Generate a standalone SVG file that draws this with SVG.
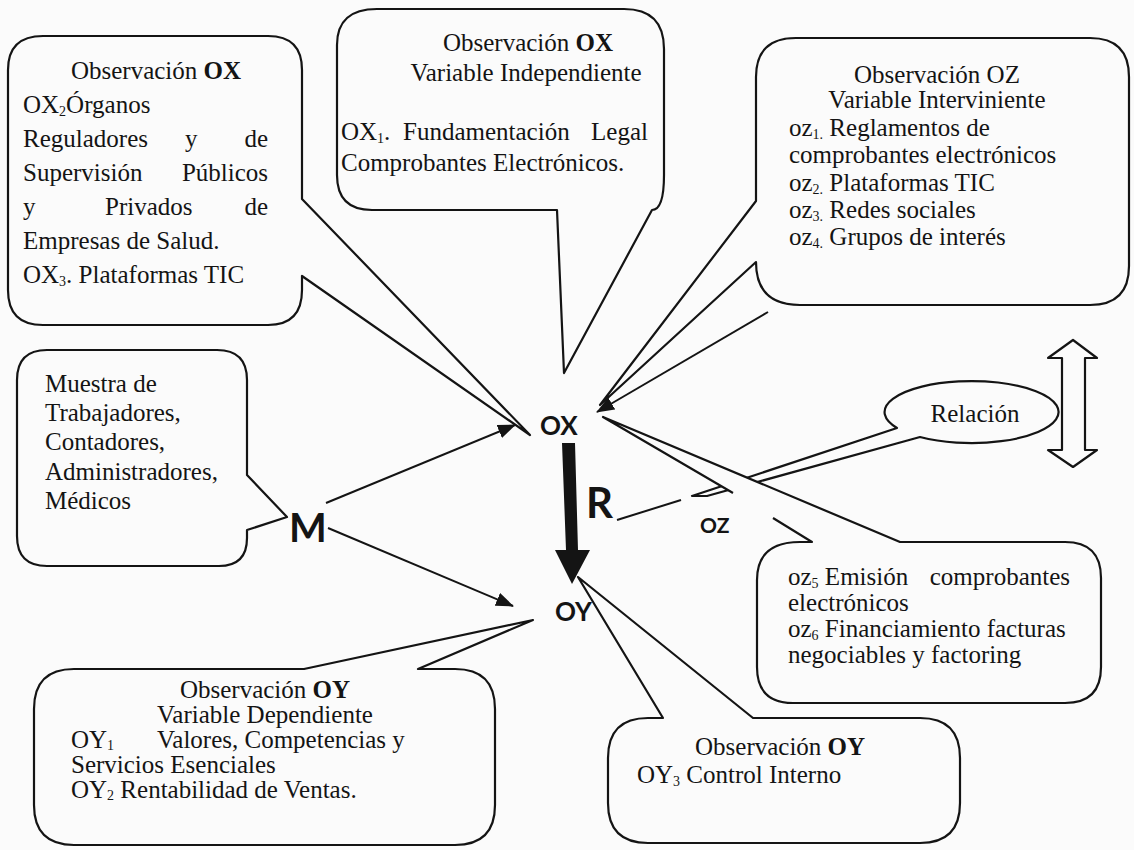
<svg xmlns="http://www.w3.org/2000/svg" width="1134" height="850" viewBox="0 0 1134 850">
<defs>
<style>
.t{font-family:"Liberation Serif","Times New Roman",serif;font-size:25px;fill:#141414}
.b{font-weight:bold}
.sub{font-size:14px}
.s{font-family:Lato,"Liberation Sans",sans-serif;font-weight:bold;fill:#141414}
.box{fill:#fbfbfb;stroke:#141414;stroke-width:2.2;stroke-linejoin:round}
.ln{fill:none;stroke:#141414;stroke-width:2}
</style>
<marker id="ah" markerUnits="userSpaceOnUse" markerWidth="18" markerHeight="14" refX="17" refY="7" orient="auto">
<path d="M0,0 L18,7 L0,14 Z" fill="#141414"/>
</marker>
</defs>
<rect width="1134" height="850" fill="#fbfbfb"/>

<g id="relacion">
<path class="box" d="M920,437 A87,31 0 1 0 897,428 L692,496 L707,496 Z"/>
<text class="t" x="975" y="422" text-anchor="middle">Relación</text>
</g>

<g id="connectors">
<line class="ln" x1="326" y1="503" x2="515" y2="425" marker-end="url(#ah)"/>
<line class="ln" x1="328" y1="528" x2="513" y2="606" marker-end="url(#ah)"/>
<line class="ln" x1="768" y1="312" x2="597" y2="412" marker-end="url(#ah)"/>
<line class="ln" x1="617" y1="520" x2="681" y2="500"/>
<path d="M562,443 L575,443 L578,550 L590,550 L572,584 L555,550 L566,550 Z" fill="#141414"/>
</g>

<g id="obs-ox-left">
<path class="box" d="M43,36 L268,36 Q302,36 302,70 L302,199 L530,435 L302,276 L302,290 Q302,325 268,325 L43,325 Q8,325 8,290 L8,70 Q8,36 43,36 Z"/>
<text class="t" x="156" y="79" text-anchor="middle">Observación <tspan class="b">OX</tspan></text>
<text class="t" x="23" y="113">OX<tspan class="sub" dy="3">2</tspan><tspan dy="-3">Órganos</tspan></text>
<text class="t" x="23" y="147">Reguladores</text>
<text class="t" x="185" y="147">y</text>
<text class="t" x="268" y="147" text-anchor="end">de</text>
<text class="t" x="23" y="181">Supervisión</text>
<text class="t" x="268" y="181" text-anchor="end">Públicos</text>
<text class="t" x="23" y="215">y</text>
<text class="t" x="105" y="215">Privados</text>
<text class="t" x="268" y="215" text-anchor="end">de</text>
<text class="t" x="23" y="249">Empresas de Salud.</text>
<text class="t" x="23" y="283">OX<tspan class="sub" dy="3">3</tspan><tspan dy="-3">. Plataformas TIC</tspan></text>
</g>

<g id="obs-ox-top">
<path class="box" d="M377,9 L624,9 Q664,9 664,49 L664,175 Q664,210 652,210 L564,373 L557,210 L372,210 Q337,210 337,175 L337,45 Q337,9 377,9 Z"/>
<text class="t" x="528" y="51" text-anchor="middle">Observación <tspan class="b">OX</tspan></text>
<text class="t" x="526" y="81" text-anchor="middle">Variable Independiente</text>
<text class="t" x="341" y="140">OX<tspan class="sub" dy="3">1</tspan><tspan dy="-3">.</tspan></text>
<text class="t" x="403" y="140">Fundamentación</text>
<text class="t" x="648" y="140" text-anchor="end">Legal</text>
<text class="t" x="341" y="171">Comprobantes Electrónicos.</text>
</g>

<g id="obs-oz-top">
<path class="box" d="M796,38 L1090,38 Q1129,38 1129,77 L1129,266 Q1129,305 1090,305 L800,305 Q756,305 756,262 L600,405 L756,201 L756,77 Q756,38 796,38 Z"/>
<text class="t" x="937" y="83" text-anchor="middle">Observación OZ</text>
<text class="t" x="937" y="108" text-anchor="middle">Variable Interviniente</text>
<text class="t" x="789" y="136">oz<tspan class="sub" dy="3">1.</tspan><tspan dy="-3"> Reglamentos de</tspan></text>
<text class="t" x="789" y="163">comprobantes electrónicos</text>
<text class="t" x="789" y="191">oz<tspan class="sub" dy="3">2.</tspan><tspan dy="-3"> Plataformas TIC</tspan></text>
<text class="t" x="789" y="218">oz<tspan class="sub" dy="3">3.</tspan><tspan dy="-3"> Redes sociales</tspan></text>
<text class="t" x="789" y="245">oz<tspan class="sub" dy="3">4.</tspan><tspan dy="-3"> Grupos de interés</tspan></text>
</g>

<g id="muestra">
<path class="box" d="M47,350 L217,350 Q247,350 247,380 L247,475 L287,517 L247,530 L247,538 Q247,566 219,566 L47,566 Q17,566 17,536 L17,380 Q17,350 47,350 Z"/>
<text class="t" x="45" y="392">Muestra de</text>
<text class="t" x="45" y="421">Trabajadores,</text>
<text class="t" x="45" y="450">Contadores,</text>
<text class="t" x="45" y="480">Administradores,</text>
<text class="t" x="45" y="509">Médicos</text>
</g>

<g id="node-m"><text class="s" x="289" y="542" font-size="40">M</text></g>
<g id="node-ox"><text class="s" x="540" y="435" font-size="26">OX</text></g>
<g id="node-oy"><text class="s" x="555" y="621" font-size="26">OY</text></g>
<g id="node-r"><text class="s" x="586" y="518" font-size="42">R</text></g>

<g id="obs-oz-bottom">
<path class="box" d="M733,493 L603,417 L900,542 L1065,542 Q1101,542 1101,578 L1101,667 Q1101,703 1065,703 L793,703 Q757,703 757,667 L757,580 Q757,542 800,542 L812,542 L773,518"/>
<text class="t" x="788" y="585">oz<tspan class="sub" dy="3">5</tspan><tspan dy="-3"> Emisión</tspan></text>
<text class="t" x="1070" y="585" text-anchor="end">comprobantes</text>
<text class="t" x="788" y="611">electrónicos</text>
<text class="t" x="788" y="637">oz<tspan class="sub" dy="3">6</tspan><tspan dy="-3"> Financiamiento facturas</tspan></text>
<text class="t" x="788" y="663">negociables y factoring</text>
</g>
<g id="node-oz"><text class="s" x="700" y="533" font-size="21">OZ</text></g>

<g id="doble-flecha">
<path class="box" d="M1073,340 L1097,358 L1085,358 L1085,450 L1097,450 L1073,467 L1048,450 L1062,450 L1062,358 L1048,358 Z"/>
</g>

<g id="obs-oy-left">
<path class="box" d="M74,669 L304,669 L533,620 L418,669 L455,669 Q495,669 495,709 L495,805 Q495,845 455,845 L74,845 Q34,845 34,805 L34,709 Q34,669 74,669 Z"/>
<text class="t" x="265" y="698" text-anchor="middle" font-size="24">Observación <tspan class="b">OY</tspan></text>
<text class="t" x="265" y="723" text-anchor="middle" font-size="24">Variable Dependiente</text>
<text class="t" x="71" y="748" font-size="24">OY<tspan class="sub" dy="2">1</tspan></text>
<text class="t" x="157" y="748" font-size="24">Valores, Competencias y</text>
<text class="t" x="71" y="773" font-size="24">Servicios Esenciales</text>
<text class="t" x="71" y="798" font-size="24">OY<tspan class="sub" dy="2">2</tspan><tspan dy="-2"> Rentabilidad de Ventas.</tspan></text>
</g>

<g id="obs-oy-right">
<path class="box" d="M648,718 L663,718 L578,577 L753,718 L920,718 Q960,718 960,758 L960,803 Q960,843 920,843 L648,843 Q608,843 608,803 L608,758 Q608,718 648,718 Z"/>
<text class="t" x="695" y="755">Observación <tspan class="b">OY</tspan></text>
<text class="t" x="637" y="783">OY<tspan class="sub" dy="3">3</tspan><tspan dy="-3"> Control Interno</tspan></text>
</g>
</svg>
